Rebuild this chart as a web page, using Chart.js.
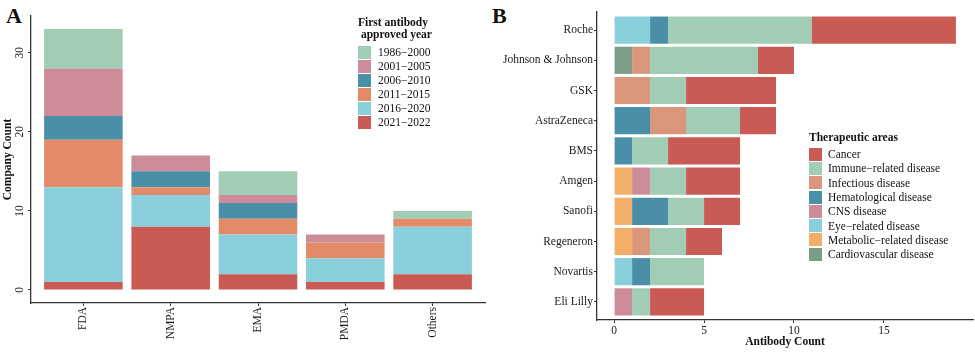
<!DOCTYPE html>
<html>
<head>
<meta charset="utf-8">
<script src="https://cdn.jsdelivr.net/npm/chart.js@4.4.0/dist/chart.umd.min.js"></script>
<style>
  body { margin: 0; background: #fff; width: 975px; height: 352px; overflow: hidden; position: relative; font-family: 'Liberation Serif', 'Times New Roman', serif; color: #111; }
  canvas { position: absolute; top: 0; }
  #chartA { left: 0; }
  #chartB { left: 490px; }
  .tag { position: absolute; font-weight: bold; font-size: 22px; line-height: 22px; }
  .legend { position: absolute; font-size: 11.5px; }
  .legend .title { font-weight: bold; white-space: pre; }
  .legend .row { display: flex; align-items: center; }
  .legend .key { width: 13px; height: 13px; flex: none; }
</style>
</head>
<body>
<div class="tag" style="left:6px;top:5px">A</div>
<div class="tag" style="left:492px;top:5px">B</div>
<canvas id="chartA" width="490" height="352"></canvas>
<canvas id="chartB" width="485" height="352"></canvas>
<div class="legend" id="legendA" style="left:358px;top:16px"></div>
<div class="legend" id="legendB" style="left:809px;top:131px"></div>
<script>
// Panel A: companies per regulator, split by year of first antibody approval
const regulators = ['FDA', 'NMPA', 'EMA', 'PMDA', 'Others'];
const yearGroups = ['1986\u22122000', '2001\u22122005', '2006\u22122010', '2011\u22122015', '2016\u22122020', '2021\u22122022'];
const yearColors = ['#a2cdb5', '#cc8c98', '#4a8fa8', '#e38b68', '#8ad0dc', '#c95a54'];
const y1986to2000 = [5, 0, 3, 0, 1];
const y2001to2005 = [6, 2, 1, 1, 0];
const y2006to2010 = [3, 2, 2, 0, 0];
const y2011to2015 = [6, 1, 2, 2, 1];
const y2016to2020 = [12, 4, 5, 3, 6];
const y2021to2022 = [1, 8, 2, 1, 2];
const yearSeries = [y1986to2000, y2001to2005, y2006to2010, y2011to2015, y2016to2020, y2021to2022];
const countTicks = [0, 10, 20, 30];

// Panel B: antibodies per company, split by therapeutic area
const companies = ['Roche', 'Johnson & Johnson', 'GSK', 'AstraZeneca', 'BMS', 'Amgen', 'Sanofi', 'Regeneron', 'Novartis', 'Eli Lilly'];
const areas = ['Cancer', 'Immune\u2212related disease', 'Infectious disease', 'Hematological disease', 'CNS disease', 'Eye\u2212related disease', 'Metabolic\u2212related disease', 'Cardiovascular disease'];
const areaColors = ['#c95a54', '#a2cdb5', '#da967a', '#4a8fa8', '#cc8c98', '#8ad0dc', '#f2af6a', '#7a9e88'];
const cancer = [8, 2, 5, 2, 4, 3, 2, 2, 0, 3];
const immune = [8, 6, 2, 3, 2, 2, 2, 2, 3, 1];
const infectious = [0, 1, 2, 2, 0, 0, 0, 1, 0, 0];
const hematological = [1, 0, 0, 2, 1, 0, 2, 0, 1, 0];
const cns = [0, 0, 0, 0, 0, 1, 0, 0, 0, 1];
const eye = [2, 0, 0, 0, 0, 0, 0, 0, 1, 0];
const metabolic = [0, 0, 0, 0, 0, 1, 1, 1, 0, 0];
const cardiovascular = [0, 1, 0, 0, 0, 0, 0, 0, 0, 0];
const areaSeries = [cancer, immune, infectious, hematological, cns, eye, metabolic, cardiovascular];
const antibodyTicks = [0, 5, 10, 15];

Chart.defaults.font.family = "'Liberation Serif', 'Times New Roman', serif";
Chart.defaults.font.size = 11.5;
Chart.defaults.color = '#1a1a1a';

const axisGrid = { display: true, offset: false, drawOnChartArea: false, drawTicks: true, tickLength: 3, tickColor: '#333', tickWidth: 1 };
const axisBorder = { display: true, color: '#333', width: 1.3 };

// ggplot stacks the last legend entry at the bottom, so datasets go in reverse
const datasetsA = yearGroups.map((g, k) => ({
    label: g,
    data: yearSeries[k].map((v, i) => ({ x: i + 1, y: v })),
    backgroundColor: yearColors[k],
    borderWidth: 0,
    barPercentage: 0.9,
    categoryPercentage: 1
})).reverse();

new Chart(document.getElementById('chartA'), {
    type: 'bar',
    data: { datasets: datasetsA },
    options: {
        responsive: false,
        animation: false,
        layout: { padding: { top: 16, right: 5, left: 0, bottom: 0 } },
        plugins: { legend: { display: false }, tooltip: { enabled: false } },
        scales: {
            x: {
                type: 'linear',
                offset: false,
                stacked: true,
                min: 0.4,
                max: 5.6,
                afterBuildTicks: axis => { axis.ticks = regulators.map((r, i) => ({ value: i + 1 })); },
                afterFit: axis => { axis.height = 49; },
                ticks: {
                    callback: (v) => regulators[Math.round(v) - 1],
                    minRotation: 90,
                    maxRotation: 90,
                    autoSkip: false,
                    padding: 1
                },
                grid: axisGrid,
                border: axisBorder
            },
            y: {
                type: 'linear',
                stacked: true,
                min: -1.65,
                max: 34.65,
                afterBuildTicks: axis => { axis.ticks = countTicks.map(v => ({ value: v })); },
                afterFit: axis => { axis.width = 31; },
                ticks: {
                    minRotation: 90,
                    maxRotation: 90,
                    crossAlign: 'center',
                    padding: 2
                },
                title: {
                    display: true,
                    text: 'Company Count',
                    font: { weight: 'bold', size: 11.5 },
                    color: '#111',
                    padding: { top: 1, bottom: 0 }
                },
                grid: axisGrid,
                border: axisBorder
            }
        }
    }
});

const datasetsB = areas.map((a, k) => ({
    label: a,
    data: areaSeries[k].map((v, i) => ({ x: v, y: i + 1 })),
    backgroundColor: areaColors[k],
    borderWidth: 0,
    barPercentage: 0.9,
    categoryPercentage: 1
})).reverse();

new Chart(document.getElementById('chartB'), {
    type: 'bar',
    data: { datasets: datasetsB },
    options: {
        indexAxis: 'y',
        responsive: false,
        animation: false,
        layout: { padding: { top: 12, right: 2, left: 0, bottom: 0 } },
        plugins: { legend: { display: false }, tooltip: { enabled: false } },
        scales: {
            x: {
                type: 'linear',
                stacked: true,
                min: -0.95,
                max: 19.95,
                afterBuildTicks: axis => { axis.ticks = antibodyTicks.map(v => ({ value: v })); },
                afterFit: axis => { axis.height = 32; },
                ticks: { padding: 1, maxRotation: 0 },
                title: {
                    display: true,
                    text: 'Antibody Count',
                    font: { weight: 'bold', size: 11.5 },
                    color: '#111',
                    padding: { top: 0, bottom: 3 }
                },
                grid: axisGrid,
                border: axisBorder
            },
            y: {
                type: 'linear',
                offset: false,
                stacked: true,
                reverse: true,
                min: 0.4,
                max: 10.6,
                afterBuildTicks: axis => { axis.ticks = companies.map((c, i) => ({ value: i + 1 })); },
                afterFit: axis => { axis.width = 107; },
                ticks: {
                    callback: (v) => companies[Math.round(v) - 1],
                    autoSkip: false,
                    padding: 1
                },
                grid: axisGrid,
                border: axisBorder
            }
        }
    }
});

function buildLegend(id, titleText, labels, colors, gapTop, rowHeight, textGap) {
    const box = document.getElementById(id);
    const title = document.createElement('div');
    title.className = 'title';
    title.style.lineHeight = '12px';
    title.textContent = titleText;
    box.appendChild(title);
    labels.forEach((label, k) => {
        const row = document.createElement('div');
        row.className = 'row';
        row.style.height = rowHeight + 'px';
        if (k === 0) row.style.marginTop = gapTop + 'px';
        const key = document.createElement('div');
        key.className = 'key';
        key.style.background = colors[k];
        const text = document.createElement('span');
        text.style.marginLeft = textGap + 'px';
        text.textContent = label;
        row.appendChild(key);
        row.appendChild(text);
        box.appendChild(row);
    });
}

buildLegend('legendA', 'First antibody\n approved year', yearGroups, yearColors, 5, 14, 7);
buildLegend('legendB', 'Therapeutic areas', areas, areaColors, 4, 14.3, 6);
</script>
</body>
</html>
